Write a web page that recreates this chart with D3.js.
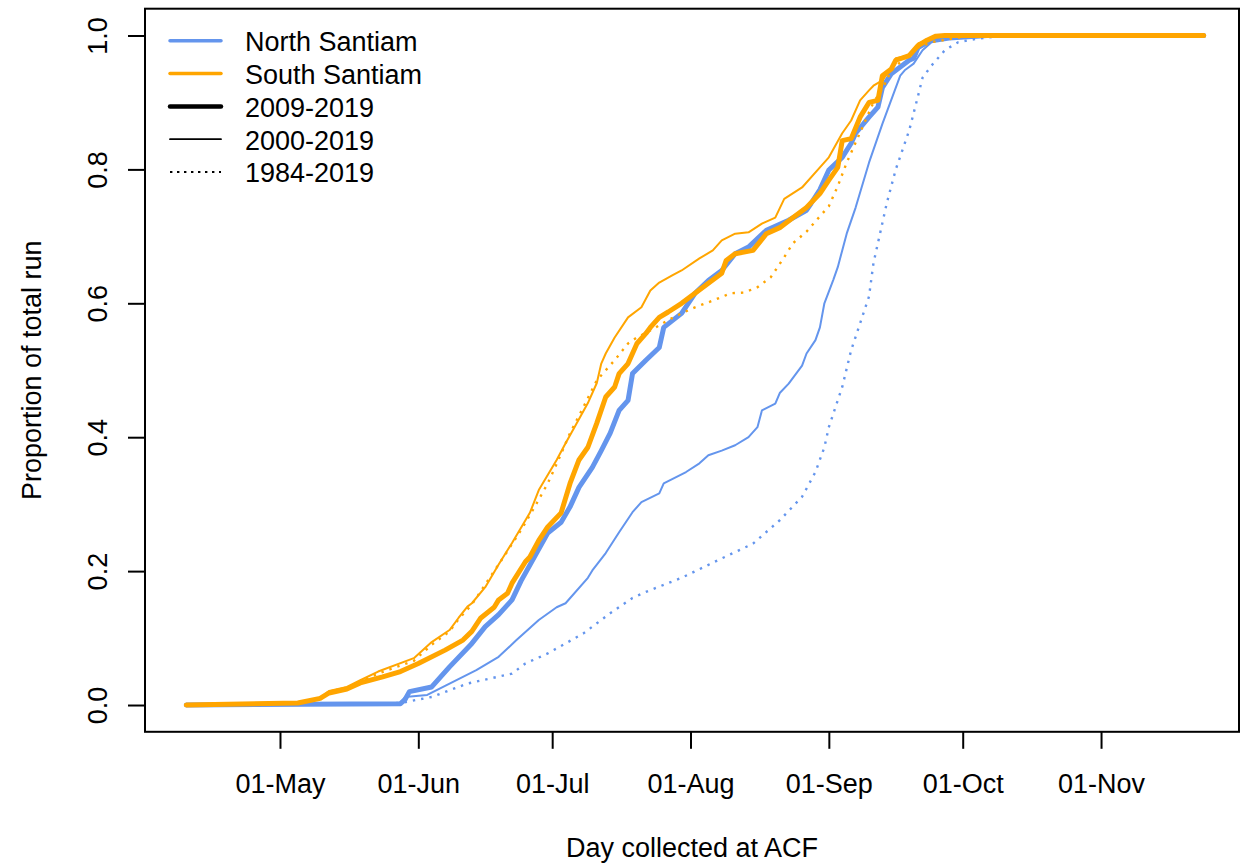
<!DOCTYPE html>
<html>
<head>
<meta charset="utf-8">
<script src="https://cdn.jsdelivr.net/npm/d3@7"></script>
<style>
  html, body { margin: 0; padding: 0; background: #fff; }
  svg { display: block; }
  text { font-family: "Liberation Sans", Arial, Helvetica, sans-serif; fill: #000; }
</style>
</head>
<body>
<svg id="chart" width="1253" height="863"></svg>
<script>
// Axis ticks
const monthTicks = ["05-01", "06-01", "07-01", "08-01", "09-01", "10-01", "11-01"];
const yTicks = [0, 0.2, 0.4, 0.6, 0.8, 1.0];

// Cumulative proportion of the run by collection day (MM-DD, proportion)
// North Santiam
const north2009 = [
  ["04-10",0],["05-28",0.002],["05-29",0.008],["05-30",0.02],["06-04",0.027],["06-08",0.057],
  ["06-13",0.092],["06-16",0.117],["06-19",0.135],["06-22",0.157],["06-24",0.185],["06-25",0.197],
  ["06-27",0.221],["06-30",0.257],["07-03",0.273],["07-05",0.296],["07-07",0.325],["07-10",0.355],
  ["07-12",0.38],["07-14",0.406],["07-16",0.44],["07-18",0.455],["07-19",0.495],["07-22",0.515],
  ["07-25",0.534],["07-26",0.564],["07-30",0.585],["08-02",0.615],["08-05",0.634],["08-08",0.649],
  ["08-11",0.674],["08-14",0.684],["08-18",0.709],["08-23",0.724],["08-27",0.739],["08-28",0.749],
  ["08-30",0.77],["09-01",0.799],["09-04",0.818],["09-06",0.839],["09-07",0.854],["09-10",0.878],
  ["09-12",0.893],["09-13",0.922],["09-15",0.943],["09-19",0.963],["09-20",0.966],["09-21",0.982],
  ["09-24",0.993],["09-26",0.997],["10-05",1],["11-24",1]
];
const north2000 = [
  ["04-10",0],["05-28",0.003],["05-29",0.012],["06-03",0.015],["06-08",0.032],["06-14",0.052],
  ["06-19",0.072],["06-23",0.097],["06-28",0.127],["07-02",0.146],["07-04",0.152],["07-09",0.19],
  ["07-10",0.201],["07-13",0.227],["07-16",0.258],["07-19",0.288],["07-21",0.303],["07-25",0.316],
  ["07-26",0.331],["07-31",0.348],["08-03",0.361],["08-05",0.373],["08-08",0.38],["08-11",0.388],
  ["08-14",0.40],["08-16",0.415],["08-17",0.44],["08-20",0.45],["08-21",0.466],["08-23",0.48],
  ["08-26",0.507],["08-27",0.525],["08-29",0.545],["08-30",0.564],["08-31",0.60],["09-02",0.635],
  ["09-03",0.654],["09-04",0.679],["09-05",0.704],["09-07",0.743],["09-10",0.81],["09-13",0.868],
  ["09-17",0.94],["09-18",0.948],["09-20",0.958],["09-22",0.978],["09-24",0.99],["09-28",0.994],
  ["10-09",0.999],["10-15",1],["11-24",1]
];
const north1984 = [
  ["04-10",0],["05-28",0.003],["06-04",0.012],["06-12",0.032],["06-22",0.047],["06-25",0.062],
  ["06-30",0.077],["07-08",0.107],["07-14",0.137],["07-19",0.16],["07-22",0.169],["07-30",0.19],
  ["08-08",0.219],["08-15",0.241],["08-21",0.276],["08-26",0.311],["08-29",0.348],["08-31",0.385],
  ["09-01",0.415],["09-03",0.455],["09-04",0.475],["09-06",0.53],["09-09",0.59],["09-10",0.61],
  ["09-11",0.66],["09-13",0.72],["09-14",0.75],["09-16",0.80],["09-19",0.858],["09-21",0.91],
  ["09-22",0.937],["09-24",0.955],["09-27",0.978],["09-30",0.99],["10-04",0.995],["10-09",0.999],
  ["10-20",1],["11-24",1]
];
// South Santiam
const south2009 = [
  ["04-10",0],["05-05",0.003],["05-10",0.010],["05-12",0.018],["05-16",0.024],["05-19",0.033],
  ["05-24",0.042],["05-28",0.05],["06-01",0.062],["06-07",0.082],["06-11",0.097],["06-13",0.11],
  ["06-15",0.13],["06-18",0.146],["06-19",0.157],["06-21",0.167],["06-22",0.182],["06-25",0.214],
  ["06-26",0.221],["06-28",0.246],["06-30",0.266],["07-03",0.287],["07-05",0.331],["07-07",0.366],
  ["07-09",0.385],["07-11",0.421],["07-13",0.46],["07-15",0.475],["07-16",0.495],["07-18",0.51],
  ["07-20",0.54],["07-22",0.555],["07-23",0.564],["07-25",0.579],["07-27",0.587],["07-30",0.60],
  ["08-02",0.615],["08-05",0.63],["08-08",0.645],["08-09",0.664],["08-11",0.674],["08-15",0.679],
  ["08-18",0.704],["08-21",0.713],["08-24",0.728],["08-27",0.743],["08-30",0.764],["09-01",0.784],
  ["09-03",0.803],["09-04",0.843],["09-06",0.846],["09-08",0.878],["09-10",0.9],["09-12",0.903],
  ["09-13",0.94],["09-15",0.95],["09-16",0.963],["09-19",0.97],["09-21",0.985],["09-23",0.993],
  ["09-25",0.999],["09-27",1],["11-24",1]
];
const south2000 = [
  ["04-10",0],["05-05",0.003],["05-10",0.010],["05-12",0.021],["05-16",0.027],["05-19",0.037],
  ["05-23",0.05],["05-31",0.07],["06-04",0.094],["06-08",0.112],["06-10",0.13],["06-12",0.147],
  ["06-13",0.152],["06-16",0.176],["06-19",0.21],["06-22",0.242],["06-26",0.287],["06-28",0.321],
  ["07-02",0.366],["07-04",0.391],["07-06",0.415],["07-09",0.451],["07-11",0.481],["07-12",0.51],
  ["07-13",0.525],["07-15",0.549],["07-18",0.579],["07-21",0.594],["07-23",0.619],["07-25",0.631],
  ["07-28",0.642],["07-30",0.649],["08-03",0.667],["08-06",0.679],["08-08",0.694],["08-11",0.704],
  ["08-14",0.706],["08-17",0.719],["08-20",0.728],["08-22",0.756],["08-26",0.773],["08-30",0.803],
  ["09-01",0.818],["09-04",0.854],["09-06",0.873],["09-08",0.903],["09-10",0.918],["09-11",0.925],
  ["09-13",0.933],["09-15",0.952],["09-16",0.966],["09-19",0.97],["09-21",0.988],["09-24",0.996],
  ["09-27",1],["11-24",1]
];
const south1984 = [
  ["04-10",0],["05-05",0.003],["05-10",0.010],["05-12",0.02],["05-16",0.026],["05-19",0.035],
  ["05-23",0.047],["05-31",0.066],["06-04",0.09],["06-08",0.11],["06-10",0.128],["06-13",0.15],
  ["06-17",0.19],["06-21",0.23],["06-24",0.261],["06-27",0.295],["06-30",0.331],["07-02",0.36],
  ["07-05",0.406],["07-08",0.445],["07-11",0.485],["07-15",0.515],["07-18",0.54],["07-20",0.549],
  ["07-24",0.563],["07-27",0.575],["07-30",0.585],["08-02",0.594],["08-06",0.604],["08-10",0.615],
  ["08-13",0.616],["08-16",0.624],["08-19",0.639],["08-22",0.669],["08-24",0.69],["08-27",0.707],
  ["08-30",0.73],["09-01",0.745],["09-03",0.775],["09-05",0.81],["09-07",0.84],["09-09",0.87],
  ["09-11",0.9],["09-13",0.92],["09-15",0.948],["09-17",0.96],["09-21",0.982],["09-24",0.99],
  ["10-01",0.998],["10-07",1],["11-24",1]
];

const BLUE = "#6495ED";   // cornflowerblue
const ORANGE = "#FFA500"; // orange

const parseDay = d3.timeParse("%Y-%m-%d");
const toDate = md => parseDay("2019-" + md);

// Plot frame
const frame = { left: 145, right: 1239, top: 8.7, bottom: 731.8 };
const xLim = [new Date(2019, 2, 31, 18), new Date(2019, 11, 1, 22)];
const yLim = [-0.04, 1.04];

const x = d3.scaleTime().domain(xLim).range([frame.left, frame.right]);
const y = d3.scaleLinear().domain(yLim).range([frame.bottom, frame.top]);

const svg = d3.select("#chart");
svg.append("rect").attr("width", 1253).attr("height", 863).attr("fill", "#fff");

const styles = {
  thick:  { width: 5,   dash: null },
  thin:   { width: 2,   dash: null },
  dotted: { width: 2.4, dash: "2.4,6" }
};

const series = [
  { data: north1984, color: BLUE,   style: "dotted" },
  { data: north2000, color: BLUE,   style: "thin" },
  { data: north2009, color: BLUE,   style: "thick" },
  { data: south1984, color: ORANGE, style: "dotted" },
  { data: south2000, color: ORANGE, style: "thin" },
  { data: south2009, color: ORANGE, style: "thick" }
];

const line = d3.line()
  .x(d => x(toDate(d[0])))
  .y(d => y(d[1]));

const plot = svg.append("g");
series.forEach(s => {
  const st = styles[s.style];
  plot.append("path")
    .datum(s.data)
    .attr("fill", "none")
    .attr("stroke", s.color)
    .attr("stroke-width", st.width)
    .attr("stroke-linejoin", "round")
    .attr("stroke-linecap", st.dash ? "butt" : "round")
    .attr("stroke-dasharray", st.dash)
    .attr("d", line);
});

// Frame box
svg.append("rect")
  .attr("x", frame.left).attr("y", frame.top)
  .attr("width", frame.right - frame.left)
  .attr("height", frame.bottom - frame.top)
  .attr("fill", "none").attr("stroke", "#000").attr("stroke-width", 2);

// X axis
const xAxis = d3.axisBottom(x)
  .tickValues(monthTicks.map(toDate))
  .tickFormat(d3.timeFormat("%d-%b"))
  .tickSize(17)
  .tickPadding(25);
const gx = svg.append("g").attr("transform", `translate(0,${frame.bottom})`).call(xAxis);
gx.select(".domain").remove();
gx.selectAll(".tick line").attr("stroke", "#000").attr("stroke-width", 2);
gx.selectAll(".tick text").attr("font-size", 27).attr("font-family", null);

// Y axis
const yAxis = d3.axisLeft(y)
  .tickValues(yTicks)
  .tickFormat(d3.format(".1f"))
  .tickSize(17);
const gy = svg.append("g").attr("transform", `translate(${frame.left},0)`).call(yAxis);
gy.select(".domain").remove();
gy.selectAll(".tick line").attr("stroke", "#000").attr("stroke-width", 2);
gy.selectAll(".tick text")
  .attr("font-size", 27).attr("font-family", null)
  .attr("transform", "rotate(-90)")
  .attr("x", 0).attr("y", -38).attr("dy", null)
  .attr("text-anchor", "middle");
svg.selectAll(".tick text").attr("fill", "#000");

// Axis titles
svg.append("text")
  .attr("x", (frame.left + frame.right) / 2).attr("y", 857)
  .attr("text-anchor", "middle").attr("font-size", 27)
  .text("Day collected at ACF");
svg.append("text")
  .attr("transform", `translate(41,${(frame.top + frame.bottom) / 2}) rotate(-90)`)
  .attr("text-anchor", "middle").attr("font-size", 27)
  .text("Proportion of total run");

// Legend
const legendItems = [
  { label: "North Santiam", color: BLUE,   width: 3.5, dash: null },
  { label: "South Santiam", color: ORANGE, width: 3.5, dash: null },
  { label: "2009-2019",     color: "#000", width: 4.5, dash: null },
  { label: "2000-2019",     color: "#000", width: 1.8, dash: null },
  { label: "1984-2019",     color: "#000", width: 2,   dash: "2.4,4.6" }
];
const legend = svg.append("g").attr("transform", "translate(170,40.8)");
legendItems.forEach((it, i) => {
  const row = legend.append("g").attr("transform", `translate(0,${i * 32.8})`);
  row.append("line")
    .attr("x1", 0).attr("x2", 51).attr("y1", 0).attr("y2", 0)
    .attr("stroke", it.color).attr("stroke-width", it.width)
    .attr("stroke-linecap", it.dash ? "butt" : "round")
    .attr("stroke-dasharray", it.dash);
  row.append("text")
    .attr("x", 75).attr("y", 10.3)
    .attr("font-size", 27)
    .text(it.label);
});
</script>
</body>
</html>
